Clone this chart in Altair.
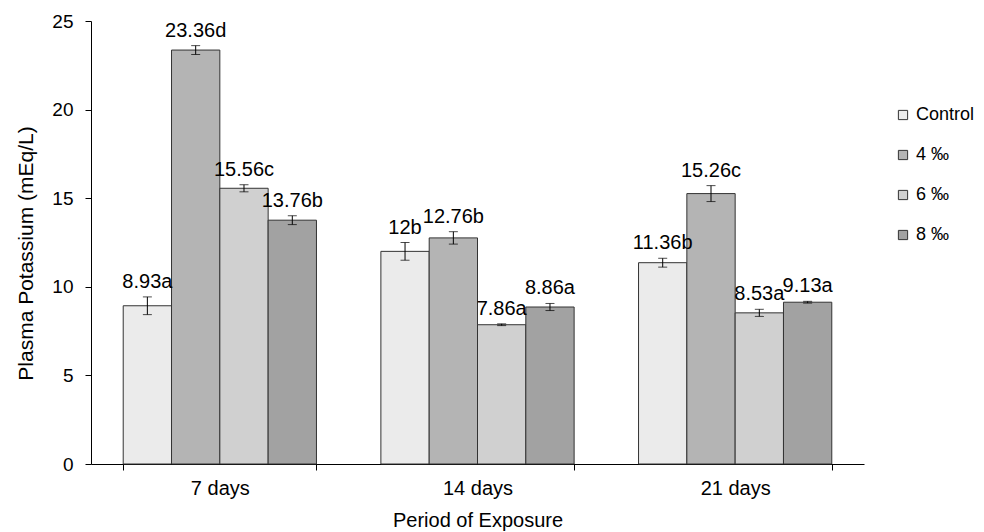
import altair as alt
import pandas as pd

periods = ["7 days", "14 days", "21 days"]
groups = ["Control", "4 ‰", "6 ‰", "8 ‰"]
values = [
    [8.93, 23.36, 15.56, 13.76],
    [12.00, 12.76, 7.86, 8.86],
    [11.36, 15.26, 8.53, 9.13],
]
errors = [
    [0.5, 0.25, 0.2, 0.25],
    [0.5, 0.35, 0.05, 0.2],
    [0.25, 0.45, 0.2, 0.05],
]
letters = [
    ["a", "d", "c", "b"],
    ["b", "b", "a", "a"],
    ["b", "c", "a", "a"],
]
labels_txt = [
    ["8.93", "23.36", "15.56", "13.76"],
    ["12", "12.76", "7.86", "8.86"],
    ["11.36", "15.26", "8.53", "9.13"],
]
fills = ["#ebebeb", "#b4b4b4", "#d0d0d0", "#a2a2a2"]

rows = []
for i, p in enumerate(periods):
    for j, g in enumerate(groups):
        v = values[i][j]
        e = errors[i][j]
        rows.append({
            "period": p, "group": g, "value": v,
            "lo": v - e, "hi": v + e,
            "label": labels_txt[i][j] + letters[i][j],
        })
df = pd.DataFrame(rows)

FONT = "Liberation Sans"

yscale = alt.Scale(domain=[0, 25], nice=False, zero=True)
xs = alt.Scale(paddingInner=0.25, paddingOuter=0.125)

x = alt.X("period:N", sort=periods, scale=xs,
          axis=alt.Axis(title="Period of Exposure", labelAngle=0, labelFontSize=20,
                        titleFontSize=20, titleFontWeight="normal", labelColor="#000",
                        titleColor="#000", tickBand="extent", tickSize=6, labelPadding=8,
                        titlePadding=12, domainColor="#000", tickColor="#000",
                        labelFont=FONT, titleFont=FONT))
xo = alt.XOffset("group:N", sort=groups)
color = alt.Color("group:N", sort=groups, scale=alt.Scale(domain=groups, range=fills),
                  legend=alt.Legend(title=None, orient="none", legendX=803, legendY=85,
                                    symbolType="square", symbolSize=85,
                                    symbolStrokeColor="#333", symbolStrokeWidth=1,
                                    labelFontSize=18, labelFont=FONT, labelColor="#000",
                                    rowPadding=22, labelOffset=4))

bars = alt.Chart(df).mark_bar(stroke="#333", strokeWidth=1).encode(
    x=x, xOffset=xo, color=color,
    y=alt.Y("value:Q", scale=yscale,
            axis=alt.Axis(title="Plasma Potassium (mEq/L)", values=[0, 5, 10, 15, 20, 25],
                          grid=False, labelFontSize=19, titleFontSize=21,
                          titleFontWeight="normal", labelColor="#000", titleColor="#000",
                          tickSize=6, labelPadding=12, titlePadding=15, titleY=232,
                          domainColor="#000", tickColor="#000", labelFont=FONT,
                          titleFont=FONT)),
)
xb = alt.X("period:N", sort=periods, scale=xs)
rules = alt.Chart(df).mark_rule(color="#000", strokeWidth=1).encode(
    x=xb, xOffset=xo, y=alt.Y("lo:Q", scale=yscale), y2="hi:Q")
caps_hi = alt.Chart(df).mark_tick(color="#000", size=9, thickness=1).encode(
    x=xb, xOffset=xo, y=alt.Y("hi:Q", scale=yscale))
caps_lo = alt.Chart(df).mark_tick(color="#000", size=9, thickness=1).encode(
    x=xb, xOffset=xo, y=alt.Y("lo:Q", scale=yscale))
text = alt.Chart(df).mark_text(baseline="alphabetic", dy=-9, fontSize=20, font=FONT,
                               color="#000").encode(
    x=xb, xOffset=xo, y=alt.Y("hi:Q", scale=yscale), text="label:N")

chart = alt.layer(bars, rules, caps_hi, caps_lo, text).properties(
    width=773, height=443,
    autosize=alt.AutoSizeParams(type="none"),
    padding={"left": 83, "top": 13, "right": 112, "bottom": 68},
).configure_view(stroke=None).configure_axis(domainWidth=1)

chart.save("out.html", embed_options={"renderer": "svg", "actions": False})
